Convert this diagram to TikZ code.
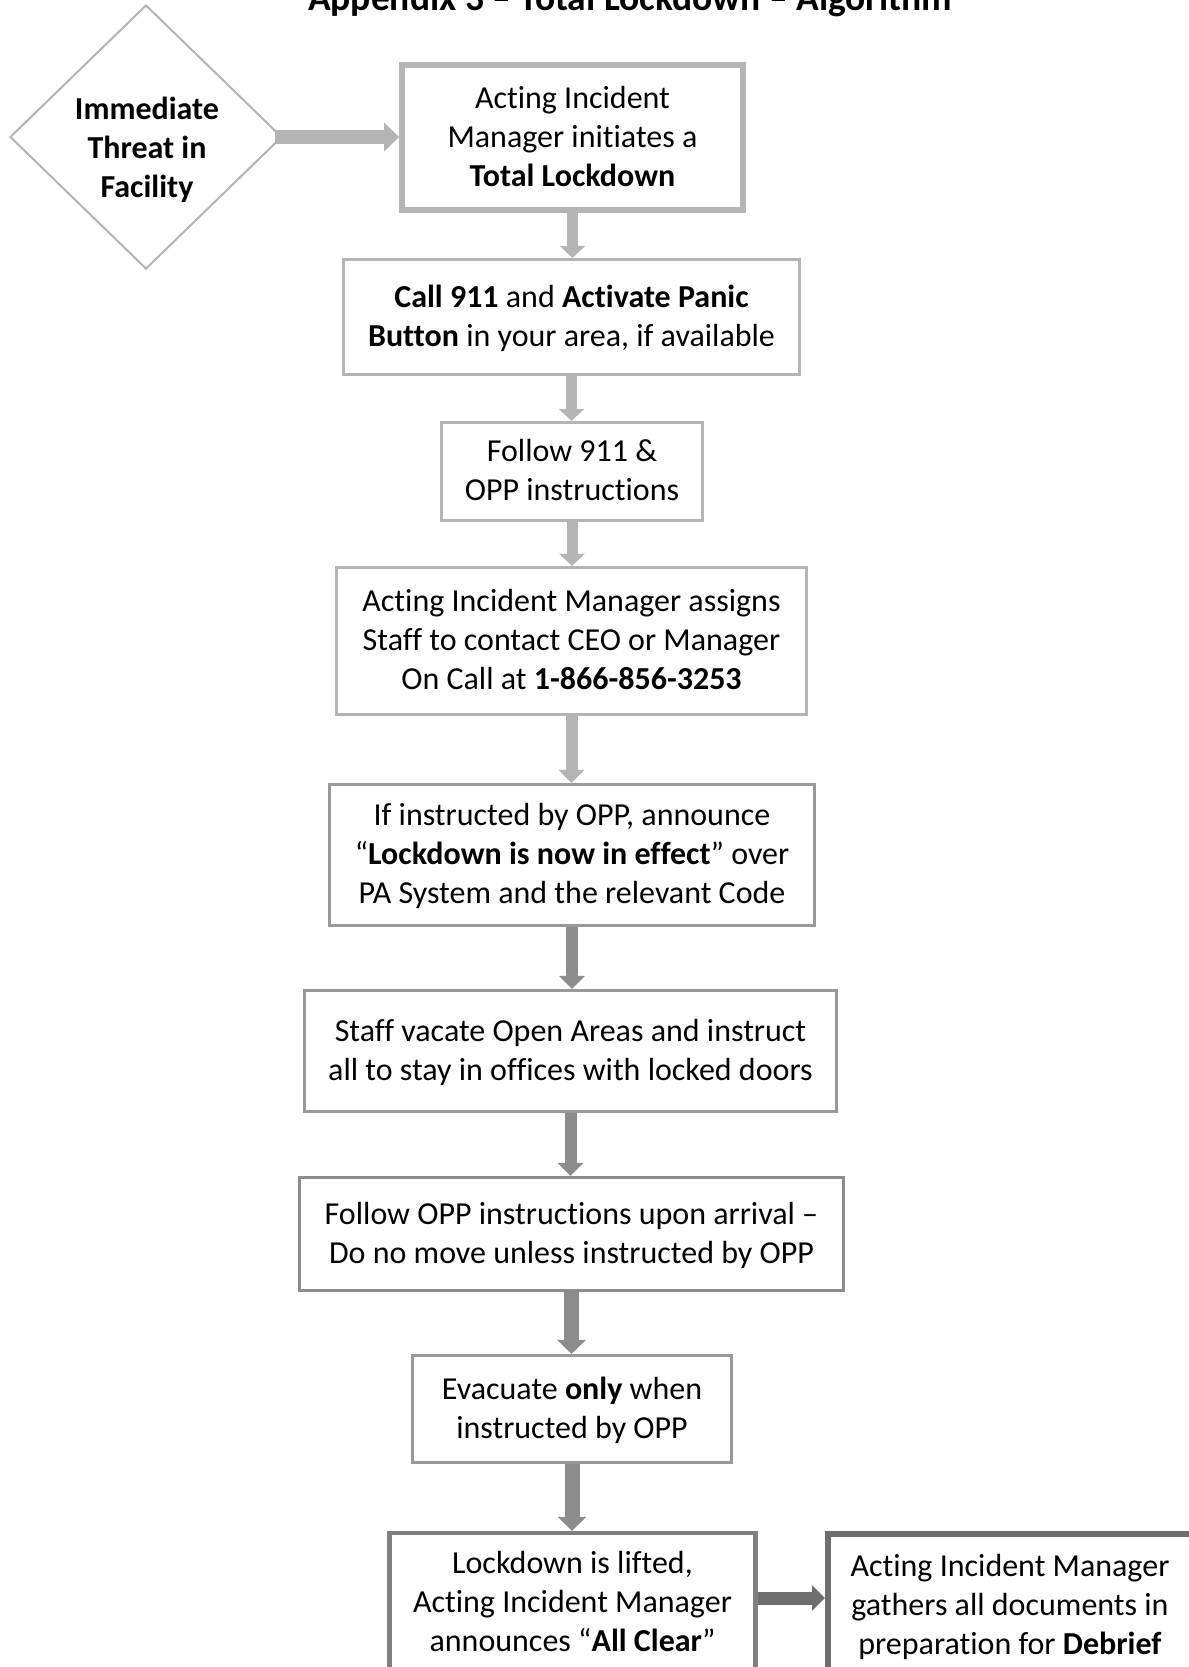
\documentclass[tikz,border=0pt]{standalone}
\usepackage{fontspec}
\setmainfont{Carlito}[Ligatures={NoCommon,NoRequired,NoContextual}]
\usetikzlibrary{shapes.geometric,arrows.meta}

\definecolor{paleline}{HTML}{B4B4B4}
\definecolor{midline}{HTML}{999999}
\definecolor{midarrow}{HTML}{8C8C8C}
\definecolor{darkline}{HTML}{7F7F7F}
\definecolor{darkarrow}{HTML}{6E6E6E}

\tikzset{
  stepbox/.style={draw=paleline, line width=1.6pt, rectangle, align=center,
    inner sep=0pt, text depth=1.2pt, font=\fontsize{16}{19.5}\selectfont},
  flowarrow/.style n args={4}{draw=#1, line width=#2,
    -{Triangle[width=#3,length=#4]}},
}

\begin{document}
\begin{tikzpicture}[x=0.5pt,y=-0.5pt]
  \useasboundingbox (0,0) rectangle (1189,1667);
  % Title, cut off at the top of the page.
  \node[anchor=base, font=\fontsize{18.75}{22}\selectfont\bfseries] (title) at (630,10)
    {Appendix 3 – Total Lockdown – Algorithm};
  % The trigger.
  \node[diamond, draw=paleline, line width=1pt, inner sep=0pt,
    minimum width=136pt, minimum height=132pt] (threat) at (146,137) {};
  \node[align=center, font=\fontsize{16}{19.5}\selectfont\bfseries] (threattext) at (147,150)
    {Immediate\\Threat in\\Facility};
  % The steps, top to bottom.
  \node[stepbox, line width=2.8pt, minimum width=170.5pt, minimum height=72.5pt] (start) at (572.5,137.5)
    {Acting Incident\\Manager initiates a\\\textbf{Total Lockdown}};
  \node[stepbox, minimum width=228pt, minimum height=57.5pt] (call) at (571.5,317)
    {\textbf{Call 911} and \textbf{Activate Panic}\\\textbf{Button} in your area, if available};
  \node[stepbox, minimum width=130.5pt, minimum height=49pt] (follow) at (572,471.5)
    {Follow 911 \&\\OPP instructions};
  \node[stepbox, minimum width=235pt, minimum height=73.5pt] (assign) at (571.5,641)
    {Acting Incident Manager assigns\\Staff to contact CEO or Manager\\On Call at \textbf{1-866-856-3253}};
  \node[stepbox, draw=midline, minimum width=242.5pt, minimum height=70.5pt] (announce) at (572,855)
    {If instructed by OPP, announce\\“\textbf{Lockdown is now in effect}” over\\PA System and the relevant Code};
  \node[stepbox, draw=midline, minimum width=266pt, minimum height=60.5pt] (vacate) at (570.5,1051)
    {Staff vacate Open Areas and instruct\\all to stay in offices with locked doors};
  \node[stepbox, draw=midarrow!90!midline, minimum width=272pt, minimum height=56.5pt] (arrival) at (571.5,1234)
    {Follow OPP instructions upon arrival –\\Do no move unless instructed by OPP};
  \node[stepbox, draw=midline, minimum width=159.5pt, minimum height=53.5pt] (evacuate) at (572,1409)
    {Evacuate \textbf{only} when\\instructed by OPP};
  \node[stepbox, draw=darkline, line width=2.2pt, minimum width=183pt, minimum height=70pt] (lifted) at (572.5,1603)
    {Lockdown is lifted,\\Acting Incident Manager\\announces “\textbf{All Clear}”};
  \node[stepbox, draw=darkarrow, line width=3pt, minimum width=182pt, minimum height=72pt] (debrief) at (1010,1606)
    {Acting Incident Manager\\gathers all documents in\\preparation for \textbf{Debrief}};
  % Connectors.
  \draw[flowarrow={paleline}{7pt}{14pt}{7.5pt}] ([xshift=-4pt]threat.east) -- (start.west |- threat.east);
  \draw[flowarrow={paleline}{5.5pt}{12.5pt}{6pt}] (start.south) -- (start.south |- call.north);
  \draw[flowarrow={paleline}{5.5pt}{12.5pt}{6pt}] (call.south) -- (call.south |- follow.north);
  \draw[flowarrow={paleline}{5.5pt}{12.5pt}{6pt}] (follow.south) -- (follow.south |- assign.north);
  \draw[flowarrow={paleline}{6pt}{12.5pt}{6.5pt}] (assign.south) -- (assign.south |- announce.north);
  \draw[flowarrow={midarrow}{6pt}{12.5pt}{6.5pt}] (announce.south) -- (announce.south |- vacate.north);
  \draw[flowarrow={midarrow}{6pt}{12.5pt}{6.5pt}] (vacate.south) -- (vacate.south |- arrival.north);
  \draw[flowarrow={midarrow}{7.5pt}{14pt}{7pt}] (arrival.south) -- (arrival.south |- evacuate.north);
  \draw[flowarrow={midarrow}{7.5pt}{14pt}{7pt}] (evacuate.south) -- (evacuate.south |- lifted.north);
  \draw[flowarrow={darkarrow}{6.5pt}{12.5pt}{6.5pt}] ([yshift=2.5pt]lifted.east) -- ([yshift=2.5pt]debrief.west |- lifted.east);
\end{tikzpicture}
\end{document}
